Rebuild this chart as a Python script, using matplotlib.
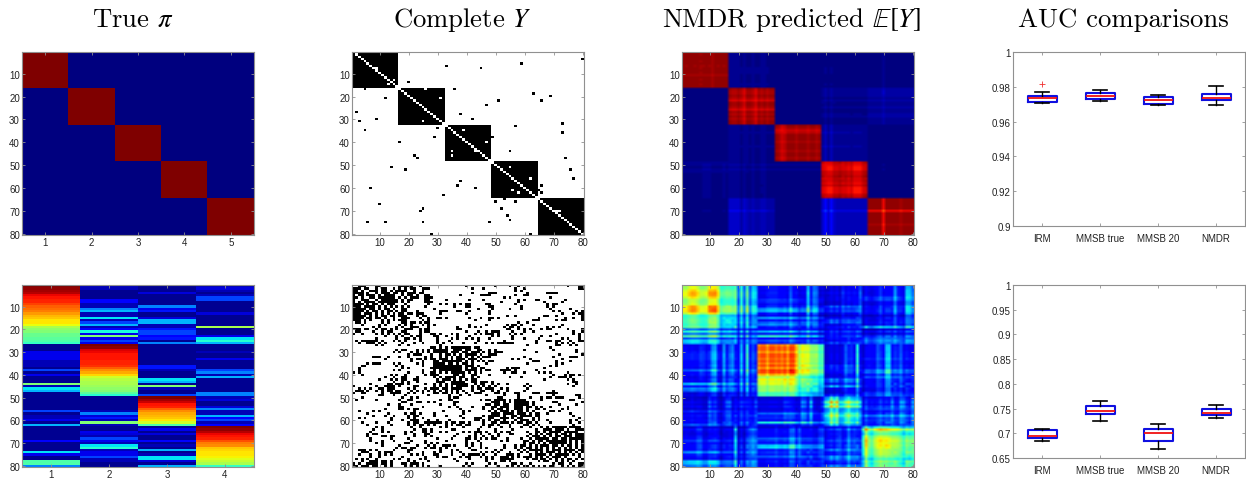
import numpy as np
import matplotlib
matplotlib.use('Agg')
import matplotlib.pyplot as plt

plt.rcParams['font.family'] = ['Liberation Sans', 'DejaVu Sans']

W, H = 1246, 481

# panel boxes in pixels: left, right, top, bottom
col_x = [(22, 254), (352, 584), (682, 914), (1013, 1245)]
row_y = [(53, 236), (286, 468)]
box_row_y = [(53, 227), (286, 459)]

titles = [r'True $\pi$', r'Complete $Y$', r'NMDR predicted $\mathbb{E}[Y]$', 'AUC comparisons']
title_x = [133, 462, 792, 1123]

block_sizes_top = [16, 16, 16, 16, 16]
block_sizes_bot = [26, 23, 13, 18]

# second-row true pi, one list per community
pi_1 = [1.0, .98, .96, .94, .9, .88, .87, .86, .84, .8, .79, .77, .74, .71, .69, .67, .66, .64, .55, .52, .5, .48, .47, .46, .44, .42,
        .02, .02, .02, .1, .1, .1, .1, .05, .05, .05, .02, .2, .02, .1, .02, .02, .02, .5, .05, .35, .3, .02, .02, .02, .02, .02, .02, .02, .02, .2,
        .02, .05, .05, .1, .02, .3, .02, .02, .02, .02, .02, .02, .12, .02, .02, .02, .02, .35, .1, .02, .02, .45, .45, .25]
pi_2 = [.05, .05, .02, .03, .02, .02, .12, .12, .05, .05, .25, .3, .05, .05, .35, .05, .2, .3, .05, .12, .38, .1, .5, .1, .2, .1,
        1.0, .98, .92, .9, .89, .88, .88, .87, .86, .85, .8, .75, .72, .68, .6, .57, .56, .55, .54, .52, .5, .46, .4,
        .03, .03, .03, .03, .03, .03, .05, .25, .08, .15, .05, .5, .05, .02, .02, .1, .08, .05, .2, .1, .05, .35, .4, .05, .1, .1, .2, .05, .05, .02, .02]
pi_3 = [.03, .03, .03, .08, .02, .02, .02, .02, .02, .25, .1, .15, .03, .02, .08, .3, .3, .05, .05, .15, .2, .2, .12, .15, .03, .25,
        .02, .02, .02, .02, .02, .02, .02, .02, .02, .15, .15, .05, .02, .02, .02, .35, .3, .02, .5, .05, .02, .03, .2,
        1.0, .96, .93, .88, .86, .8, .75, .72, .71, .7, .66, .6, .45,
        .03, .1, .03, .08, .02, .03, .12, .03, .05, .02, .3, .03, .05, .35, .35, .08, .02, .3]
pi_4 = [.05, .08, .05, .02, .05, .2, .2, .03, .03, .02, .02, .02, .08, .02, .02, .02, .02, .02, .55, .03, .03, .03, .1, .35, .4, .3,
        .02, .02, .02, .05, .02, .02, .1, .02, .02, .02, .02, .2, .25, .05, .3, .02, .02, .02, .02, .02, .02, .25, .25,
        .05, .08, .02, .03, .08, .25, .05, .05, .3, .12, .2, .05, .12,
        1.0, .97, .95, .9, .88, .87, .82, .78, .75, .7, .68, .67, .66, .65, .62, .58, .55, .42]

# first-row Y: cells that differ from the block pattern, (col, row)
y_top_black = [(45, 1), (80, 4), (59, 6), (33, 7), (45, 8), (20, 14), (5, 17), (36, 17), (63, 19), (69, 20), (12, 21), (66, 22), (51, 22),
               (47, 24), (2, 27), (38, 28), (42, 30), (9, 30), (3, 31), (73, 32), (57, 33), (30, 34), (5, 35), (73, 36), (29, 38), (49, 38),
               (17, 40), (55, 44), (22, 46), (23, 47), (74, 47), (14, 51), (19, 52), (76, 52), (77, 56), (38, 57), (37, 59), (66, 59), (7, 60),
               (43, 60), (65, 61), (66, 62), (32, 63), (53, 65), (50, 66), (57, 66), (80, 66), (10, 67), (52, 69), (25, 69), (24, 70), (54, 72),
               (55, 74), (6, 75), (12, 75), (25, 75), (48, 75), (28, 80), (62, 80), (16, 15)]
y_top_white = [(8, 8), (9, 8), (13, 15), (15, 13), (26, 17), (31, 21), (25, 31), (39, 35), (47, 40), (35, 44), (43, 44), (44, 44), (35, 46), (55, 51),
               (62, 56), (56, 61), (58, 62), (71, 70), (72, 70)]

# second-row Y, row by row, # is a link
y_bottom_rows = [
    "..###...##......#####..#...............#.........#....#..#................#...###",
    "###.##..#.##..#.#.#.##..###..............#...#..........#..#..................##",
    "##.#..###.##.#.####..#..#...............................#.#.......................",
    "####.#..#.###.##.#.###.##................#.....###..........#......####...........",
    "#.##.###.#.####..#.##.#..##..........#......####........#..##.....................",
    "##.#..##.######.#.#.###..###........................#.#.............#...........#.",
    "#..###..#.######.#.##....##.....#.......#....#...........#.#...##........#........",
    "#.#.####.#######.#.#.....###.......................#.....#........#.....#........",
    "####.#.##.#.###...#.......#...#.#..#.#.##.....##........#..........#.##.........#",
    "###.####.#.#.#.#.#.#.....#.........#...##......##.........#........#.#...........",
    "#####.##.#.##.#..##.........#..............#....#.....#...#.........#......#.....",
    "####.#.##.#.##.#.##...#.......###...##..#......#.....................#.#.....#.#.",
    "###.###.#.#.#.#.##.##.###.....#........#.......#........................#...#.##.",
    "#####.#.#.##.##.###...#.##...........................#..#.........##..#........##.",
    "####.##.##.#..#..###...#..#..##.#.......#...#..##.#.............#........#..#..#..",
    "###.#.#...#.#.#.###.....#.#...............#....#..............###.....#.##.....#.#",
    ".##.#.....#.#....##.##.#.##..............................#..#...................#",
    "...#.....#.#....#.#.#...#.#.#...........#.....#......#.##.#...#.........#.........",
    ".......#.#.....#.#..###...#.........#...#.#.#.......#.##.#.........#.#.#.........",
    "###.##..#.##.#.#..###..#.##.........##...............##..#.#.#...#.##.....#....#.",
    ".##....#..#.##...##....#.##............#...#..#.###....#...#..#.............#..##",
    "#..#....#.#.#.#.#.##...#...##.#...#.#.....#.#.###.#...#.#.#...........#.....#.#..",
    "...........#...#.#..#.##....##..#...#...#.......#.#....#.........#..#.........#.##",
    "........#......#..##.#.#.....#....#.#..#.#.#...#.......#...#....#.......#.#...#..",
    ".#.######.#...#.#.#....#.....#...#.........#........#..........#...##.##...#..##.",
    "..#..###.#.#.....#...#..#....#.#..#...#...#...#.#.######.......#......#.#.#.#.....",
    "........#.#.....#..#..........#.............................#.........##...#.#...",
    "...........................##.#.#.#######.##........................#.............",
    "...............#.##...#.#.#.#####..###.##..##..#.#.........#.........#.......#..",
    "..............#.#...#.#.#.#.#####.###.##.###.#.#.###...........#.............#...",
    "...................#.###...#..#.##.#.#.####.#..###.....................#.......#.",
    ".......###..#...#..#.....#.#..#.#.#.##.#.#.#.###...........#.........#.....###.",
    "...........#........#.##.#.##.###.#.###.###.#..........#.#...#..........#.......",
    "....................#...#...##.#######.#.#.#.#.##.............###.....#....#....",
    ".....#.###....#.#.....#.#...####.##.#.##.#....#.............#.........#.#.......",
    "...##..........#.#......#...##########.###.#........................#.#.........",
    "..#..............#.#.......###########.#.##.##.......#.###........#.............",
    "..#...........#.#.......#...#.########.####.#.##...####.#......#..............",
    "#.#................#....#..##.#.#.#####.#.#.#.......#..##..#....#.#.#.....#.....",
    "...#.........#.#..#......#.###.....##.#..##....#.....................#...#.##.#..",
    "...........#..#..##...#.....#.#.####.##..#.#..........#...#.........#..###.#....",
    ".........#...#.#.##..##......#.###.#.#.#.##.......................#.......#.#...",
    "..............#..#.#..#......###..#####..##.###.#...........................##..",
    "......#.....##.###.#.....#..#.#.#.######..#.##..#.#..#......#.............#..#..",
    "#.......#..####.#....##.....#.#.#.#.####.#.#.#.#.#.........#.#..............#...",
    "..#.#.#..##.###....#.#...#.###.##.####...#.##.###..#.#......#...................",
    ".###.#..#.#.##.##...#.#.#.#.#.#.#.#.#.#..#..##..#.#..#.....#.........#..........",
    "#..##.....#..####..#.#..#...##.##.#.#..#..###....##.#...##....###..####.........",
    ".........##...#...#.......#......#...#..#.....#.....#....#...........#.......##",
    "...#.............#..#.#..........#.##.............##.....#...#...#.##.###.....#.",
    ".#......#.......#..##.........#..##.........#.##.####.#.####.....#.........##..",
    ".................##...##..#.#......##...........###.#.#.#####.#......##........#",
    "............#...#...#.........#....#..........##.##.##..#####.#........#.....#..",
    "................##......#........#..#....#...#..##.###..###.##.#.#..#.....#.....",
    "...........#....##.#.##..............#.......#..#.##.#..###.#..##.#.....#.#.....",
    "..#....#.#...........#.........#......#.#......#.#.###.#.##.#.#.....##.#........",
    ".....#......#.....#.##.#....#.........#.........###.####.###.#.##..#.......#....",
    ".......#...#..#....#.##.....#...#....#.......#.####.#..##.####.##...........#...",
    "..#.#........#.....#.#..#.............#...###..##..###.#.##...#.#.............#.",
    ".............#...#..###...#..#...#........##.#.#.##.#...#.###.#.#..#.......#.#..",
    "...#....#...#......#.##..######.#.##.##.#....#..##.###.#.##.##.#....#......#..#.",
    ".....#.......#.....#.#.##.#.#...#.#.##.##....#.##.#...#....##.#.#...........#...",
    "........#.#.........#..#......#.#.....#.....#..#...#..#...#..#...#.#.#####.####.",
    ".......#..#..........#..##.#......##.......#.....#.....#.......#..###.###.#..###",
    "......#...#.#.....#.#...##.#..#.#.....#.#.###.#..#.#.##.....#..##.#.####.#####..",
    ".....#.##.........#..#...##.........#.....#.#..#..#...##.....#.#.#.##.#.##.#.###",
    ".....#....##.##......#...#.#.......#....#.#..#..#.#.........#.###.#.#.##.###.###",
    "......#......#.....#.........#....#....##.#.#.#.##...#....#..#.#####.##.##.#####",
    "......#...#...#.....#....#......#......#...#.......#.#.....##.#.##.#######.#.#.#",
    "........#.#.......##.....#.#.#.........#.#..#..............#.##.#.#.######.#.#.##",
    "..........#.....#.....#...#.#..###.#...#.#..#.......#...#.##.#.#.###.##.#.##.#.#",
    "...............#.##.##...#.##.#.#.......#...#.#.....#...#.#.##.#.#.#.#.#.#.#.#.#",
    "..###.#.#.....#....##.........#...#.#....##......#.#.....#.#.#####.#.###.####.##",
    "...###...#.###.....#....#...#.#...#..#......#.#.#.#...#...#.#..#.#.###.#.#.#.#.#",
    "..#...#..#.#.#......#.#.#...##....#...#.####.#...#...###.#...#.####.#.#####.#.#.",
    "......#..#.......#.......#...#.##....#.##...#.#.#..###.#.#.###.#.#.#.###.#....#.",
    ".#.#.#..#.....#.#..#...#.#.........#....#.....#.#..#####....#.##.##.#.#.#.##.#.#",
    "...#..###.##.#.....#.#....#.........#.........#....##.#.........#.##..#.#.#.#..",
    "#.#..####.##.#...##.###.#..............#.#.....#.#.....##.#..#.......#.##..#..##.",
    "##.###.##..#.#....#.#.#.#.#...#.......#.#.....#...#..#.#.#.##.#.#.#.##..#.#.#.##",
]

# first-row NMDR: within-block and off-block loadings of each node, and block table
nmdr_top_in = [.99, .985, .99, .99, .985, .99, .98, .985, .99, .985, .975, .99, .985, .99, .985, .99,
               .985, .97, .975, .985, .97, .945, .985, .985, .975, .945, .985, .97, .985, .975, .985, .985,
               .985, .97, .945, .96, .985, .985, .985, .975, .985, .985, .985, .975, .985, .985, .975, .985,
               .97, .95, .94, .94, .975, .975, .985, .965, .975, .955, .975, .94, .94, .94, .975, .985,
               .99, .99, .99, .99, .99, .91, .99, .99, .985, .985, .99, .975, .99, .985, .99, .99]
nmdr_top_out = [1, 1, 1, 1, 1, 1, 1, 1.2, 1.3, 1.3, 1, 1, 1, 1, 1.2, 1,
                1.6, 1.7, 1.8, 1.6, 1.1, 1.6, 1.2, 1.1, 1.5, 1.1, 1.1, 1.4, 1.5, 1.1, 1, 1,
                1, 1, 1, 1.2, 1, 1, 1, 1, 1, 1.2, 1, 1, 1, 1, 1, 1,
                1.4, 2.4, 1.3, 2.4, 1.4, 1.2, 1.2, 1.2, 1.2, 1.2, 1.1, 1.2, 1.2, 1.2, 1.1, 1.1,
                1, 1, 1, 1, 1, 1.5, 1, 1, 1, 1, 1, 1, 1, 1, 1, 1]
nmdr_top_table = [[1.0, .012, .004, .006, .012],
                  [.006, 1.0, .004, .01, .025],
                  [.004, .014, 1.0, .022, .004],
                  [.012, .01, .008, 1.0, .006],
                  [.01, .04, .004, .05, 1.0]]

# second-row NMDR: node strengths in their own community, and community table
nmdr_bot_in = [.85, .85, .95, 1, 1, .9, .78, .8, .85, 1, 1, 1, .9, .62, .6, .65, .62, .6, .62, .3, .55, .3, .6, .25, .45, .4,
               .95, 1, 1, .9, 1, 1, .95, 1, .95, 1, .9, 1, 1, .85, .65, .75, .72, .7, .6, .6, .62, .5, .5,
               .55, .65, 1, .75, .95, .5, .55, .7, .8, .65, .6, .65, .45,
               .65, 1.1, .8, .7, .9, .95, 1, 1, .95, .9, .85, .85, .85, .7, .6, .75, .7, .7]
nmdr_bot_table = [[.72, .07, .07, .07],
                  [.07, .82, .07, .07],
                  [.07, .07, .75, .11],
                  [.07, .07, .11, .62]]
# out-of-community entries of pi come through at this weight
nmdr_bot_leak = .8

tick_labels_box = ['IRM', 'MMSB true', 'MMSB 20', 'NMDR']
box_med = [[.9733, .9746, .9724, .9737], [.695, .746, .70, .742]]
box_q1 = [[.9715, .9728, .9704, .9723], [.691, .74, .685, .738]]
box_q3 = [[.9748, .9767, .9741, .976], [.707, .755, .708, .75]]
box_lo = [[.9705, .972, .9694, .9696], [.684, .725, .668, .73]]
box_hi = [[.977, .978, .9755, .9802], [.709, .765, .718, .757]]
box_fliers = [[[.9818], [], [], []], [[], [], [], []]]
box_ylim = [(.9, 1), (.65, 1)]
box_yticks = [[.9, .92, .94, .96, .98, 1], [.65, .7, .75, .8, .85, .9, .95, 1]]
box_ylabels = [['0.9', '0.92', '0.94', '0.96', '0.98', '1'], ['0.65', '0.7', '0.75', '0.8', '0.85', '0.9', '0.95', '1']]


def groups(sizes):
    return np.repeat(np.arange(len(sizes)), sizes)


def make_ax(xr, yr):
    ax = fig.add_axes([xr[0] / W, 1 - yr[1] / H, (xr[1] - xr[0]) / W, (yr[1] - yr[0]) / H])
    for s in ax.spines.values():
        s.set_color('#909090')
        s.set_linewidth(0.8)
    ax.tick_params(direction='in', length=2, width=0.6, color='#909090', labelcolor='#222222',
                   labelsize=7, pad=1.5, top=True, right=True)
    return ax


def show(ax, m, cmap, xticks, interp='bilinear'):
    n = m.shape[1]
    ax.imshow(m, cmap=cmap, vmin=0, vmax=1, aspect='auto', interpolation=interp,
              extent=(0.5, n + 0.5, 80.5, 0.5))
    ax.set_xticks(xticks)
    ax.set_yticks(range(10, 81, 10))


fig = plt.figure(figsize=(W / 100, H / 100), dpi=100)
jet = plt.get_cmap('jet', 64)

# true pi
g_top = groups(block_sizes_top)
m = np.zeros((80, 5))
m[np.arange(80), g_top] = 1
show(make_ax(col_x[0], row_y[0]), m, jet, range(1, 6), 'nearest')

pi_bot = np.array([pi_1, pi_2, pi_3, pi_4]).T
show(make_ax(col_x[0], row_y[1]), pi_bot, jet, range(1, 5), 'nearest')

# complete Y
m = (g_top[:, None] == g_top[None, :]).astype(float)
np.fill_diagonal(m, 0)
for c, r in y_top_black:
    m[r - 1, c - 1] = 1
for c, r in y_top_white:
    m[r - 1, c - 1] = 0
show(make_ax(col_x[1], row_y[0]), m, 'gray_r', range(10, 81, 10), 'nearest')

m = np.array([[ch == '#' for ch in row.ljust(80, '.')[:80]] for row in y_bottom_rows], dtype=float)
show(make_ax(col_x[1], row_y[1]), m, 'gray_r', range(10, 81, 10), 'nearest')

# NMDR expected Y
s, t = np.array(nmdr_top_in), np.array(nmdr_top_out, dtype=float)
table = np.array(nmdr_top_table)[g_top][:, g_top]
same = g_top[:, None] == g_top[None, :]
m = np.where(same, np.outer(s, s), table * np.outer(t, t))
show(make_ax(col_x[2], row_y[0]), m, jet, range(10, 81, 10))

g_bot = groups(block_sizes_bot)
p = pi_bot * nmdr_bot_leak
p[np.arange(80), g_bot] = nmdr_bot_in
m = np.clip(p @ np.array(nmdr_bot_table) @ p.T, 0, 1)
show(make_ax(col_x[2], row_y[1]), m, jet, range(10, 81, 10))

# AUC boxes
for i in range(2):
    ax = make_ax(col_x[3], box_row_y[i])
    stats = [{'med': box_med[i][k], 'q1': box_q1[i][k], 'q3': box_q3[i][k], 'whislo': box_lo[i][k],
              'whishi': box_hi[i][k], 'fliers': box_fliers[i][k]} for k in range(4)]
    ax.bxp(stats, positions=range(1, 5), widths=0.5, capwidths=0.25,
           boxprops={'color': '#1010e0', 'linewidth': 1.5},
           medianprops={'color': '#f01010', 'linewidth': 1.3},
           whiskerprops={'color': 'black', 'linewidth': 1.0},
           capprops={'color': 'black', 'linewidth': 1.2},
           flierprops={'marker': '+', 'markeredgecolor': '#f03030', 'markersize': 4, 'markeredgewidth': 0.6})
    ax.set_xlim(0.5, 4.5)
    ax.set_ylim(*box_ylim[i])
    ax.set_xticks(range(1, 5))
    ax.set_xticklabels(tick_labels_box)
    ax.set_yticks(box_yticks[i])
    ax.set_yticklabels(box_ylabels[i])
    ax.tick_params(axis='x', pad=5)

for label, x in zip(titles, title_x):
    fig.text(x / W, 1 - 27 / H, label, ha='center', va='baseline', fontsize=19.2, family='cmr10', math_fontfamily='stix')

fig.savefig('out.png', dpi=100)
